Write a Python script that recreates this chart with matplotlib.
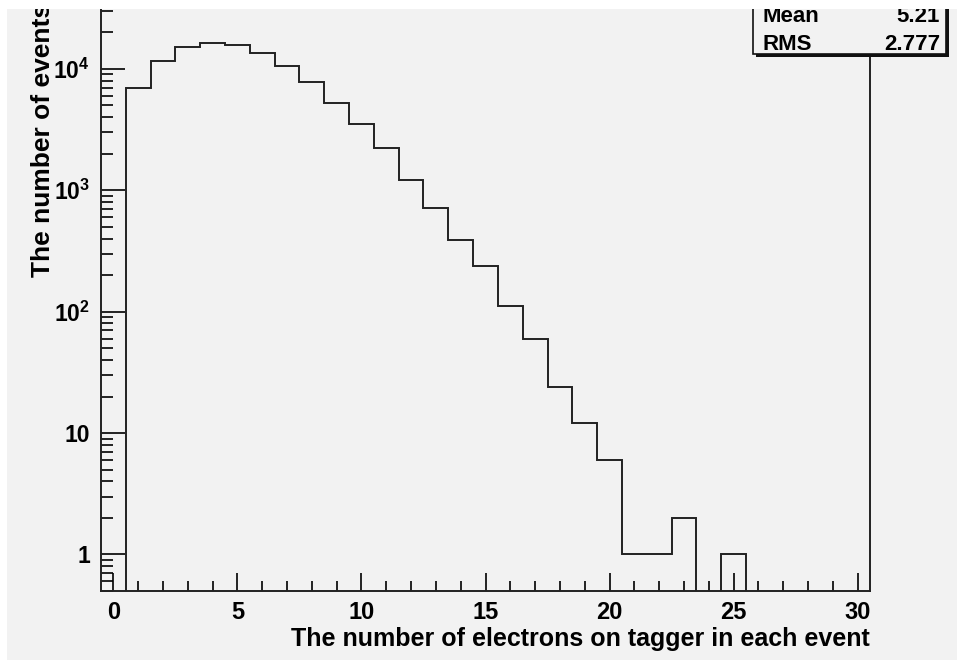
import numpy as np
import matplotlib
matplotlib.use("Agg")
import matplotlib.pyplot as plt
from matplotlib.patches import Rectangle
from matplotlib.ticker import FixedLocator, FixedFormatter, LogLocator, NullFormatter, MultipleLocator

# ---- data ----
bin_centers = list(range(0, 31))
counts = [0, 6970, 11500, 15000, 16300, 15660, 13400, 10590, 7730, 5250,
          3500, 2210, 1208, 714, 387, 237, 111, 60, 24, 12,
          6, 1, 1, 2, 0, 1, 0, 0, 0, 0, 0]
x_ticks = [0, 5, 10, 15, 20, 25, 30]
x_ticklabels = ["0", "5", "10", "15", "20", "25", "30"]
y_ticks = [1, 10, 100, 1000, 10000]
y_ticklabels = ["1", "10", r"$10^{2}$", r"$10^{3}$", r"$10^{4}$"]
stats_names = ["Mean", "RMS"]
stats_values = ["5.21", "2.777"]
xlabel = "The number of electrons on tagger in each event"
ylabel = "The number of events"

plt.rcParams['font.family'] = ['Liberation Sans', 'DejaVu Sans']
plt.rcParams['font.weight'] = 'bold'
plt.rcParams['mathtext.fontset'] = 'custom'
plt.rcParams['mathtext.rm'] = 'Liberation Sans:bold'
plt.rcParams['mathtext.bf'] = 'Liberation Sans:bold'
plt.rcParams['mathtext.it'] = 'Liberation Sans:bold'
plt.rcParams['mathtext.default'] = 'rm'

W, H = 959, 662
BG = '#f2f2f2'
fig = plt.figure(figsize=(W / 100, H / 100), dpi=100)
fig.patch.set_facecolor('white')
fig.add_artist(Rectangle((0, 0), 1, 1, transform=fig.transFigure,
                         facecolor=BG, edgecolor='none', zorder=-10))

def fx(px):
    return px / W

def fy(py):
    return 1 - py / H

ymin, ymax = 0.5, 4.0e4
decade = 121.4
ax_h_px = decade * np.log10(ymax / ymin)
left_px, right_px, bottom_px = 101, 870, 591
ax = fig.add_axes([fx(left_px), fy(bottom_px), (right_px - left_px) / W, ax_h_px / H])
ax.set_facecolor(BG)

edges = np.arange(-0.5, 31.0, 1.0)
ax.stairs(counts, edges, baseline=None, color='#222222', linewidth=1.4)

ax.set_yscale('log')
ax.set_xlim(-0.5, 30.5)
ax.set_ylim(ymin, ymax)

ax.xaxis.set_major_locator(FixedLocator(x_ticks))
ax.xaxis.set_major_formatter(FixedFormatter(x_ticklabels))
ax.xaxis.set_minor_locator(MultipleLocator(1))
ax.yaxis.set_major_locator(FixedLocator(y_ticks))
ax.yaxis.set_major_formatter(FixedFormatter(y_ticklabels))
ax.yaxis.set_minor_locator(LogLocator(base=10, subs=np.arange(2, 10)))
ax.yaxis.set_minor_formatter(NullFormatter())

ax.tick_params(axis='x', which='major', direction='in', length=13, width=1.2,
               pad=7, labelsize=17, top=False)
ax.tick_params(axis='x', which='minor', direction='in', length=7, width=1.2, top=False)
ax.tick_params(axis='y', which='major', direction='in', length=17.5, width=1.2,
               pad=8, labelsize=16.5, right=False)
ax.tick_params(axis='y', which='minor', direction='in', length=8.5, width=1.2, right=False)
for s in ax.spines.values():
    s.set_linewidth(1.4)
    s.set_color('#222222')

fig.text(fx(870), fy(646), xlabel, ha='right', va='baseline', fontsize=18,
         fontweight='bold')
fig.text(fx(50), fy(3), ylabel, ha='right', va='baseline', rotation=90,
         rotation_mode='anchor', fontsize=19, fontweight='bold')

# stats box
box_l, box_r, box_b, box_t = 753, 946, 54, -80
sh = 3
fig.add_artist(Rectangle((fx(box_l + sh), fy(box_b + sh)), (box_r - box_l) / W,
                         (box_b - box_t) / H, transform=fig.transFigure,
                         facecolor='#111111', edgecolor='none', zorder=5))
fig.add_artist(Rectangle((fx(box_l), fy(box_b)), (box_r - box_l) / W,
                         (box_b - box_t) / H, transform=fig.transFigure,
                         facecolor=BG, edgecolor='#111111', linewidth=1.2, zorder=6))
row_base = [22.5, 50]
for name, val, yb in zip(stats_names, stats_values, row_base):
    fig.text(fx(763), fy(yb), name, ha='left', va='baseline', fontsize=16,
             fontweight='bold', zorder=7)
    fig.text(fx(940), fy(yb), val, ha='right', va='baseline', fontsize=16,
             fontweight='bold', zorder=7)

# white border strips of the screenshot
for (x0, y0, w, h) in [(0, 0, W, 9), (0, 0, 7, H), (957, 0, 2, H), (0, 660, W, 2)]:
    fig.add_artist(Rectangle((fx(x0), fy(y0 + h)), w / W, h / H,
                             transform=fig.transFigure, facecolor='white',
                             edgecolor='none', zorder=20))

fig.savefig('out.png', dpi=100, facecolor=fig.get_facecolor())
